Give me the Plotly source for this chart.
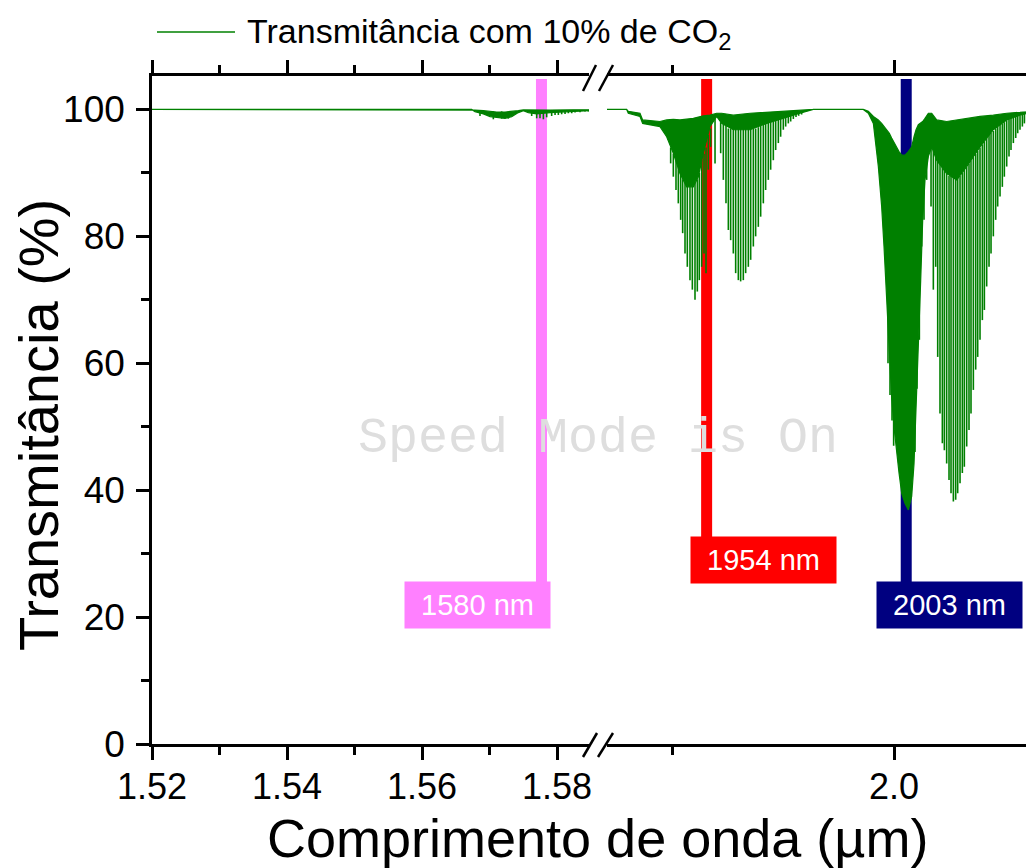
import plotly.graph_objects as go

GREEN = "#008000"
FONT = "Liberation Sans, Arial, sans-serif"

# ---------------- data ----------------
# left segment: continuum top / solid bottom of the weak band
left_wl = [1.52, 1.56736, 1.56785, 1.56909, 1.57008, 1.57106, 1.57230, 1.57329, 1.57427,
           1.57502, 1.57575, 1.57699, 1.57897, 1.58242, 1.58489]
left_top = [100, 100, 99.9, 99.8, 99.66, 99.6, 99.6, 99.66, 99.8, 99.92, 99.9, 99.9, 99.9, 99.95, 99.95]
left_bot = [100, 100, 99.66, 99.3, 98.87, 98.76, 98.6, 98.87, 99.5, 99.8, 99.5, 99.3, 99.5, 99.7, 99.8]
# left segment: individual absorption lines
left_line_wl = [1.56859, 1.57057, 1.57180, 1.57279, 1.57625, 1.57699, 1.57748, 1.57798, 1.57847, 1.57921,
                1.57971, 1.58020, 1.58069, 1.58119, 1.58168, 1.58218, 1.58267, 1.58341, 1.58415, 1.58464]
left_line_top = [99.8, 99.7, 99.7, 99.7, 99.8, 99.8, 99.8, 99.8, 99.8, 99.8,
                 99.8, 99.8, 99.8, 99.8, 99.8, 99.8, 99.8, 99.85, 99.85, 99.85]
left_line_min = [98.97, 98.45, 98.55, 98.55, 98.97, 98.6, 98.6, 98.45, 98.76, 98.97,
                 99.13, 99.13, 99.24, 99.3, 99.4, 99.4, 99.5, 99.55, 99.66, 99.66]

# right segment: continuum top / solid bottom of the bands
right_wl = [1.93536, 1.93979, 1.94016, 1.94279, 1.94339, 1.94729, 1.94880, 1.95030, 1.95180, 1.95330,
            1.95480, 1.95593, 1.95706, 1.95856, 1.96006, 1.96118, 1.96381, 1.96757, 1.97132, 1.97507,
            1.97883, 1.98183, 1.99309, 1.99422, 1.99535, 1.99647, 1.99722, 1.99775, 1.99835, 1.99895,
            1.99947, 2.00007, 2.00060, 2.00113, 2.00173, 2.00248, 2.00323, 2.00398, 2.00451, 2.00496,
            2.00548, 2.00601, 2.00646, 2.00698, 2.00774, 2.00849, 2.00961, 2.01186, 2.01412, 2.01637,
            2.01937, 2.02237, 2.02538, 2.02838, 2.03139]
right_top = [100, 100, 99.7, 99.4, 98.35, 98.1, 98.35, 98.45, 98.35, 98.45,
             98.6, 98.8, 99.0, 99.1, 99.4, 99.4, 99.1, 99.4, 99.55, 99.7,
             99.8, 100, 100, 99.7, 98.9, 98.35, 97.8, 97.3, 96.8, 96.25,
             95.5, 94.7, 94.1, 93.35, 92.8, 92.8, 93.35, 94.1, 95.7, 96.8,
             97.6, 97.8, 98.1, 98.6, 99.4, 99.4, 98.35, 98.1, 98.35, 98.6,
             98.9, 99.1, 99.4, 99.55, 99.75]
right_bot = [100, 100, 99.4, 98.9, 97.8, 97.3, 95.7, 93.1, 89.9, 87.8,
             87.8, 89.4, 93.1, 97.3, 98.9, 97.8, 96.8, 96.8, 97.8, 98.6,
             99.4, 100, 100, 99.4, 97.8, 91.0, 84.7, 78.4, 70.5, 62.6,
             54.7, 49.5, 45.8, 42.7, 39.5, 37.9, 36.9, 39.0, 44.2, 52.1,
             62.6, 73.1, 82.6, 88.9, 92.6, 94.1, 92.0, 89.9, 88.9, 91.0,
             94.1, 96.8, 98.35, 99.1, 99.65]
# right segment: individual absorption lines
right_line_wl = [1.94917, 1.94970, 1.95030, 1.95090, 1.95142, 1.95195, 1.95240, 1.95293, 1.95345, 1.95405,
                 1.95458, 1.95518, 1.95570, 1.95615, 1.95668, 1.95721, 1.95766, 1.95818, 1.95871, 1.95969,
                 1.96096, 1.96156, 1.96216, 1.96269, 1.96321, 1.96381, 1.96434, 1.96494, 1.96546, 1.96606,
                 1.96659, 1.96719, 1.96772, 1.96832, 1.96884, 1.96944, 1.96997, 1.97057, 1.97109, 1.97169,
                 1.97222, 1.97282, 1.97335, 1.97395, 1.97447, 1.97507, 1.97560, 1.97620, 1.97673, 1.97733,
                 1.97793, 1.97853, 1.97920,
                 1.99865, 1.99910, 1.99955, 1.99992, 2.00473, 2.00518, 2.00571,
                 2.00623, 2.00676, 2.00736,
                 2.00834, 2.00886, 2.00939, 2.00984, 2.01036, 2.01089, 2.01134, 2.01186, 2.01239, 2.01284,
                 2.01337, 2.01389, 2.01434, 2.01487, 2.01539, 2.01584, 2.01637, 2.01689, 2.01734, 2.01787,
                 2.01840, 2.01885, 2.01937, 2.01990, 2.02035, 2.02087, 2.02140, 2.02185, 2.02237, 2.02290,
                 2.02335, 2.02388, 2.02440, 2.02485, 2.02538, 2.02590, 2.02635, 2.02688, 2.02741, 2.02786,
                 2.02838, 2.02891, 2.02936, 2.02989, 2.03041, 2.03086, 2.03139]
right_line_top = [95.7, 94, 93, 92, 91, 90, 89, 88.5, 88.5, 88.5,
                  88.5, 88.5, 89, 90, 92, 93, 94, 96, 97, 98.5,
                  98, 98, 97.5, 97, 97, 97, 97, 97, 97, 97,
                  97, 97, 97, 97, 97, 97.2, 97.4, 97.6, 97.8, 98,
                  98.1, 98.2, 98.4, 98.5, 98.6, 98.7, 98.9, 99.0, 99.1, 99.2,
                  99.3, 99.4, 99.5,
                  90, 88, 86, 84, 75, 80, 85,
                  85, 90, 92,
                  94, 94, 93, 92, 91.5, 91, 90.5, 90, 89.5, 89.5,
                  89.5, 89.5, 89.5, 89.5, 90, 90.5, 91, 91.5, 92, 92.5,
                  93, 93.5, 94, 94.5, 95, 95.5, 96, 96.3, 96.6, 97,
                  97.3, 97.6, 97.8, 98, 98.3, 98.5, 98.7, 98.8, 98.9, 99,
                  99.1, 99.2, 99.3, 99.4, 99.5, 99.5, 99.6]
right_line_min = [95.2, 91.5, 89.4, 87.3, 85.2, 82.6, 80.5, 77.3, 75.2, 73.1,
                  71.6, 70.0, 71.3, 73.1, 75.2, 77.3, 74.2, 90.5, 94.1, 91.5,
                  93.1, 88.9, 85.2, 81.0, 79.4, 77.3, 74.2, 73.1, 72.9, 73.1,
                  74.2, 75.2, 76.3, 78.4, 80.0, 81.5, 83.1, 85.2, 87.3, 88.9,
                  90.5, 92.0, 93.6, 94.7, 95.7, 96.8, 97.3, 97.8, 98.1, 98.5,
                  98.8, 99.0, 99.2,
                  60.0, 55.0, 51.0, 47.0, 46.0, 56.0, 63.7,
                  78.4, 82.6, 88.9,
                  84.7, 71.6, 75.2, 61.0, 52.1, 47.4, 46.3, 44.2, 41.6, 39.5,
                  38.2, 38.5, 39.5, 41.1, 42.7, 43.7, 46.9, 49.5, 52.1, 55.8,
                  59.0, 61.0, 63.7, 66.8, 68.4, 72.1, 75.2, 77.3, 80.0, 82.6,
                  84.7, 86.3, 87.8, 89.4, 91.0, 92.6, 93.6, 94.7, 95.5, 96.25,
                  96.8, 97.3, 97.8, 98.1, 98.5, 98.8, 99.0]

# marker bars and their labels
bar_wl = [1.5777, 1.9578, 2.00275]
bar_axis = ["x", "x2", "x2"]
bar_color = ["#FF80FF", "#FF0000", "#000080"]
label_text = ["1580 nm", "1954 nm", "2003 nm"]
label_wl = [1.56822, 1.97050, 2.01261]
label_T = [21.9, 29.0, 21.9]
label_top = [25.5, 32.6, 25.5]

left_ticks = [1.52, 1.54, 1.56, 1.58]
left_ticktext = ["1.52", "1.54", "1.56", "1.58"]
right_ticks = [2.0]
right_ticktext = ["2.0"]
y_ticks = [0, 20, 40, 60, 80, 100]

# ---------------- figure ----------------
# the page body has an 8 px margin, so the figure is placed at (8, 8) in the window
OFF = 8
W, H = 1034 - OFF, 868 - OFF
ML, MR, MT = 144, 0, 68
MB = H - (744 - OFF)
PW, PH = W - ML - MR, H - MT - MB


def px(xp):
    """window pixel x -> paper x"""
    return (xp - OFF - ML) / PW


def py(yp):
    """window pixel y -> paper y"""
    return (H - MB - (yp - OFF)) / PH


fig = go.Figure()


def add_band(wl, top, bot, xa):
    fig.add_trace(go.Scatter(
        x=wl + wl[::-1], y=top + bot[::-1], xaxis=xa, yaxis="y",
        mode="lines", fill="toself", fillcolor=GREEN,
        line=dict(color=GREEN, width=1.2), hoverinfo="skip", showlegend=False))


def add_lines(wl, top, mn, xa):
    xs, ys = [], []
    for w, t, m in zip(wl, top, mn):
        xs += [w, w, None]
        ys += [t, m, None]
    fig.add_trace(go.Scatter(
        x=xs, y=ys, xaxis=xa, yaxis="y", mode="lines",
        line=dict(color=GREEN, width=1.6), hoverinfo="skip", showlegend=False))


add_band(left_wl, left_top, left_bot, "x")
add_lines(left_line_wl, left_line_top, left_line_min, "x")
add_band(right_wl, right_top, right_bot, "x2")
add_lines(right_line_wl, right_line_top, right_line_min, "x2")

shapes = []
for w, xa, c, t in zip(bar_wl, bar_axis, bar_color, label_top):
    shapes.append(dict(type="line", xref=xa, yref="y", x0=w, x1=w, y0=t, y1=104.8,
                       line=dict(color=c, width=11), layer="below"))

# axis-break slashes
for (x0, y0, x1, y1) in [(583, 91, 596, 65), (599, 91, 613, 65),
                         (583, 757, 597, 733), (598, 757, 613, 733)]:
    shapes.append(dict(type="line", xref="paper", yref="paper",
                       x0=px(x0), y0=py(y0), x1=px(x1), y1=py(y1),
                       line=dict(color="black", width=2.5)))

# legend line
shapes.append(dict(type="line", xref="paper", yref="paper",
                   x0=px(157), x1=px(235), y0=py(32), y1=py(32),
                   line=dict(color=GREEN, width=1.5)))

annotations = []
for txt, w, T, c, xa in zip(label_text, label_wl, label_T, bar_color, bar_axis):
    annotations.append(dict(text=txt, xref=xa, yref="y", x=w, y=T, showarrow=False,
                            width=145, height=46, bgcolor=c, borderpad=0,
                            font=dict(family=FONT, size=29, color="white")))

annotations.append(dict(text="Transmitância com 10% de CO<sub>2</sub>", xref="paper", yref="paper",
                        x=px(245), y=py(33), xanchor="left", yanchor="middle", showarrow=False,
                        font=dict(family=FONT, size=34, color="black")))
annotations.append(dict(text="Comprimento de onda (µm)", xref="paper", yref="paper",
                        x=px(597), y=py(838), xanchor="center", yanchor="middle", showarrow=False,
                        font=dict(family=FONT, size=54, color="black")))
annotations.append(dict(text="Transmitância (%)", xref="paper", yref="paper",
                        x=px(38), y=py(425), xanchor="center", yanchor="middle", showarrow=False,
                        textangle=-90, font=dict(family=FONT, size=56, color="black")))
annotations.append(dict(text="Speed Mode is On", xref="paper", yref="paper",
                        x=px(598), y=py(438), xanchor="center", yanchor="middle", showarrow=False,
                        font=dict(family="Liberation Mono, DejaVu Sans Mono, monospace", size=50,
                                  color="#dedede")))

axis_common = dict(showline=True, linecolor="black", linewidth=2.5, ticks="outside",
                   ticklen=13, tickwidth=2.5, tickcolor="black", showgrid=False, zeroline=False,
                   mirror="ticks", ticklabelstandoff=-4,
                   tickfont=dict(family=FONT, size=36, color="black"))

fig.update_layout(
    width=W, height=H, autosize=False,
    margin=dict(l=ML, r=MR, t=MT, b=MB, pad=0, autoexpand=False),
    paper_bgcolor="white", plot_bgcolor="white",
    showlegend=False,
    xaxis=dict(domain=[0, px(589)], range=[1.52, 1.58474], tickvals=left_ticks,
               ticktext=left_ticktext, anchor="y",
               minor=dict(dtick=0.01, tick0=1.52, ticks="outside", ticklen=8, tickwidth=2.5,
                          tickcolor="black", showgrid=False),
               **axis_common),
    xaxis2=dict(domain=[px(607), 1], range=[1.93536, 2.03153], tickvals=right_ticks,
                ticktext=right_ticktext, anchor="y",
                minor=dict(tickvals=[1.95], ticks="outside", ticklen=8, tickwidth=2.5,
                           tickcolor="black", showgrid=False),
                **axis_common),
    yaxis=dict(range=[0, 105.27], tickvals=y_ticks, showline=True, linecolor="black",
               linewidth=2.5, ticks="outside", ticklen=13, tickwidth=2.5, tickcolor="black",
               showgrid=False, zeroline=False, mirror=False, ticklabelstandoff=4,
               tickfont=dict(family=FONT, size=37, color="black"),
               minor=dict(dtick=10, ticks="outside", ticklen=8, tickwidth=2.5,
                          tickcolor="black", showgrid=False)),
    shapes=shapes,
    annotations=annotations,
)

fig.write_html("out.html")
